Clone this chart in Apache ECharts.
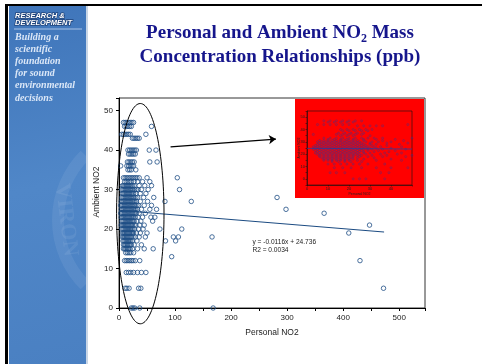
<!DOCTYPE html>
<html>
<head>
<meta charset="utf-8">
<title>Personal and Ambient NO2 Mass Concentration Relationships</title>
<script src="https://cdn.jsdelivr.net/npm/echarts@6/dist/echarts.min.js"></script>
<style>
  html, body { margin: 0; padding: 0; background: #fff; }
  #chart { width: 482px; height: 364px; }
</style>
</head>
<body>
<div id="chart"></div>
<script>
// Markers sit on whole-ppb rows, so the scatter is kept as one row per ambient level
// with the personal readings read off that row.
const ambientLevels = [47, 46, 44, 43, 40, 39, 37, 36, 35, 33, 32, 31, 30, 29, 28, 27, 26,
  25, 24, 23, 22, 21, 20, 19, 18, 17, 16, 15, 14, 13, 12, 9, 5, 0];
const personalByLevel = [
  [8, 11, 14, 17, 20, 23, 26],
  [10, 13, 16, 19, 22, 58],
  [5, 8, 11, 14, 17, 20, 48],
  [24, 27, 30, 33, 36],
  [16, 19, 22, 25, 28, 31, 54, 66],
  [17, 20, 23, 26, 29],
  [15, 18, 21, 24, 27, 55, 68],
  [3, 14, 17, 20, 23, 26],
  [16, 19, 22, 30],
  [8, 11, 14, 17, 20, 23, 26, 29, 32, 36, 50, 104],
  [10, 13, 16, 19, 22, 27, 33, 42, 55],
  [6, 8, 10, 12, 14, 16, 18, 20, 22, 24, 27, 36, 46, 58],
  [5, 7, 9, 11, 13, 15, 17, 19, 21, 23, 25, 28, 31, 34, 40, 52, 108],
  [6, 8, 10, 12, 14, 16, 18, 20, 22, 24, 26, 30, 38, 48],
  [5, 7, 9, 11, 13, 15, 17, 19, 21, 23, 25, 27, 30, 33, 44, 62, 282],
  [4, 6, 8, 10, 12, 14, 16, 18, 20, 22, 24, 26, 28, 31, 38, 51, 82, 129],
  [3, 5, 7, 9, 11, 13, 15, 17, 19, 21, 23, 25, 27, 29, 32, 35, 45, 58],
  [4, 6, 8, 10, 12, 14, 16, 18, 20, 22, 24, 26, 28, 30, 33, 40, 55, 67, 298],
  [3, 5, 7, 9, 11, 13, 15, 17, 19, 21, 23, 25, 27, 29, 31, 36, 47, 366],
  [4, 6, 8, 10, 12, 14, 16, 18, 20, 22, 24, 26, 29, 34, 42, 57, 64],
  [5, 7, 9, 11, 13, 15, 17, 19, 21, 23, 25, 27, 32, 39, 60],
  [4, 6, 8, 10, 12, 14, 16, 18, 20, 22, 24, 27, 30, 37, 45, 447],
  [5, 7, 9, 11, 13, 15, 17, 19, 21, 23, 25, 28, 35, 43, 73, 112],
  [6, 8, 10, 12, 14, 16, 18, 20, 22, 24, 26, 31, 38, 50, 410],
  [6, 8, 10, 12, 14, 16, 18, 20, 22, 25, 29, 36, 47, 97, 106, 166],
  [7, 9, 11, 13, 15, 17, 19, 21, 24, 32, 83, 101],
  [8, 10, 12, 14, 16, 18, 20, 22, 27, 40],
  [8, 10, 12, 14, 16, 18, 20, 24, 33, 45, 61],
  [12, 15, 18, 21, 26],
  [94],
  [10, 13, 16, 19, 22, 25, 29, 37, 430],
  [13, 17, 21, 26, 33, 40, 48],
  [11, 14, 18, 35, 39, 472],
  [22, 25, 28, 37, 168],
];

// Excel trendline as printed on the slide, drawn over the span of the personal readings.
const fitSlope = -0.0116;
const fitIntercept = 24.736;
const fitSpan = [3, 473];
const fitText = ['y = -0.0116x + 24.736', 'R2 = 0.0034'];

const xTicks = [0, 100, 200, 300, 400, 500];
const yTicks = [0, 10, 20, 30, 40, 50];
const insetXTicks = [0, 10, 20, 30, 40];
const insetYTicks = [0, 10, 20, 30, 40, 50];

const sidebarHead = ['RESEARCH &', 'DEVELOPMENT'];
const sidebarMotto = ['Building a', 'scientific', 'foundation', 'for sound', 'environmental', 'decisions'];

const SANS = '"Liberation Sans", Arial, sans-serif';
const SERIF = '"Liberation Serif", "Times New Roman", serif';
const POINT = '#1f4f86';

const points = ambientLevels.flatMap((y, i) => personalByLevel[i].map((x) => [x, y]));
const fitAt = (x) => [x, +(fitIntercept + fitSlope * x).toFixed(3)];
const insetPoints = points.filter(([x]) => x <= 50);

const tickFormatter = (ticks) => (v) => (ticks.includes(Math.round(v * 1000) / 1000) ? String(v) : '');

function valueAxis(extra) {
  return Object.assign({
    type: 'value',
    splitLine: { show: false },
    axisLine: { onZero: false, lineStyle: { color: '#000', width: 1 } },
    axisTick: { length: 3, lineStyle: { color: '#000' } },
    nameMoveOverlap: false,
  }, extra);
}

const option = {
  animation: false,
  backgroundColor: '#fff',
  grid: [
    { left: 119, top: 98, width: 306, height: 210, show: true, borderColor: '#333', borderWidth: 1, backgroundColor: 'transparent' },
    { left: 307, top: 111, width: 105, height: 74, show: true, borderColor: '#111', borderWidth: 0.6, backgroundColor: 'transparent', z: 4 },
  ],
  xAxis: [
    valueAxis({
      gridIndex: 0, min: 0, max: 546, interval: 50,
      axisLabel: { fontSize: 8, margin: 6, color: '#222', fontFamily: SANS, formatter: tickFormatter(xTicks) },
      name: 'Personal NO2', nameLocation: 'middle', nameGap: 20,
      nameTextStyle: { fontSize: 8.5, color: '#222', fontFamily: SANS },
    }),
    valueAxis({
      gridIndex: 1, min: 0, max: 50, interval: 10, z: 5,
      axisLine: { onZero: false, lineStyle: { color: '#111', width: 0.6 } },
      axisTick: { length: 1.5, lineStyle: { color: '#111', width: 0.5 } },
      axisLabel: { fontSize: 4, margin: 2, color: '#222', fontFamily: SANS, formatter: tickFormatter(insetXTicks) },
      name: 'Personal NO2', nameLocation: 'middle', nameGap: 7,
      nameTextStyle: { fontSize: 3.5, color: '#222', fontFamily: SANS },
    }),
  ],
  yAxis: [
    valueAxis({
      gridIndex: 0, min: 0, max: 53.2, interval: 10,
      axisLabel: { fontSize: 8, margin: 6, color: '#222', fontFamily: SANS, formatter: tickFormatter(yTicks) },
      name: 'Ambient NO2', nameLocation: 'middle', nameGap: 18,
      nameTextStyle: { fontSize: 8.5, color: '#222', fontFamily: SANS, padding: [0, 0, 0, 22] },
    }),
    valueAxis({
      gridIndex: 1, min: -5, max: 55, interval: 5, z: 5,
      axisLine: { onZero: false, lineStyle: { color: '#111', width: 0.6 } },
      axisTick: { length: 1.5, lineStyle: { color: '#111', width: 0.5 } },
      axisLabel: { fontSize: 4, margin: 2, color: '#222', fontFamily: SANS, formatter: tickFormatter(insetYTicks) },
      name: 'Ambient NO2', nameLocation: 'middle', nameGap: 6,
      nameTextStyle: { fontSize: 3.5, color: '#222', fontFamily: SANS },
    }),
  ],
  series: [
    {
      type: 'line',
      xAxisIndex: 0, yAxisIndex: 0, z: 2,
      data: fitSpan.map(fitAt),
      showSymbol: false, silent: true,
      lineStyle: { color: '#1b4b82', width: 1 },
      markLine: {
        silent: true,
        symbol: ['none', 'arrow'],
        symbolSize: 7,
        label: { show: false },
        lineStyle: { color: '#000', width: 1.3, type: 'solid' },
        data: [[{ coord: [92, 40.8] }, { coord: [280, 42.8] }]],
      },
    },
    {
      type: 'scatter',
      xAxisIndex: 0, yAxisIndex: 0, z: 3,
      symbol: 'circle', symbolSize: 4.5,
      itemStyle: { color: 'rgba(0,0,0,0)', borderColor: POINT, borderWidth: 1 },
      data: points,
    },
    {
      type: 'line',
      xAxisIndex: 1, yAxisIndex: 1, z: 6,
      data: [0, 50].map(fitAt),
      showSymbol: false, silent: true,
      lineStyle: { color: '#2540a0', width: 0.8 },
    },
    {
      type: 'scatter',
      xAxisIndex: 1, yAxisIndex: 1, z: 6,
      symbol: 'circle', symbolSize: 2,
      itemStyle: { color: 'rgba(0,0,0,0)', borderColor: '#2a3a9c', borderWidth: 0.5 },
      data: insetPoints,
    },
  ],
};

const chart = echarts.init(document.getElementById('chart'));
chart.setOption(option);

// Annotations that live in data space on the slide, placed once the scales exist.
const toPx = (xy) => chart.convertToPixel({ gridIndex: 0 }, xy);
const ringCenter = toPx([38, 23.9]);
const ringRx = toPx([38 + 42.3, 23.9])[0] - ringCenter[0];
const ringRy = ringCenter[1] - toPx([38, 23.9 + 27.9])[1];
const eqAt = toPx([238, 17.5]);

const text = (x, y, str, font, fill, extra) => ({
  type: 'text', x, y, z: 10,
  style: Object.assign({ text: str, font, fill, align: 'left', verticalAlign: 'middle', textAlign: 'left', textVerticalAlign: 'middle' }, extra),
});

const graphic = [
  // slide frame and sidebar
  { type: 'rect', z: 0, shape: { x: 9, y: 6, width: 77, height: 358 },
    style: { fill: { type: 'linear', x: 0, y: 0, x2: 1, y2: 1, colorStops: [
      { offset: 0, color: '#3f75ba' }, { offset: 0.5, color: '#5087c8' }, { offset: 1, color: '#4a80c2' }] } } },
  { type: 'arc', z: 1, shape: { cx: 150, cy: 220, r: 92, startAngle: Math.PI * 0.75, endAngle: Math.PI * 1.25 },
    style: { stroke: 'rgba(255,255,255,0.07)', lineWidth: 12, fill: 'none' } },
  Object.assign(text(66, 220, 'VIRON', 'bold 22px ' + SERIF, 'rgba(255,255,255,0.08)', { align: 'center', textAlign: 'center' }),
    { rotation: -Math.PI / 2 * 0.92 }),
  { type: 'rect', z: 2, shape: { x: 5, y: 4, width: 3, height: 360 }, style: { fill: '#000' } },
  { type: 'rect', z: 2, shape: { x: 5, y: 4, width: 477, height: 2 }, style: { fill: '#000' } },
  { type: 'rect', z: 1, shape: { x: 86, y: 6, width: 2, height: 358 }, style: { fill: '#c9d6e6' } },
  { type: 'line', z: 2, shape: { x1: 14, y1: 29, x2: 82, y2: 29 }, style: { stroke: '#a9c3e6', lineWidth: 1 } },
  ...sidebarHead.map((s, i) => text(15, 16 + i * 7, s, 'italic bold 7.5px ' + SANS, '#ffffff',
    { stroke: '#22457c', lineWidth: 1.6 })),
  ...sidebarMotto.map((s, i) => text(15, 37 + i * 12.2, s, 'italic bold 10px ' + SERIF, '#dbe7f7')),

  // title
  { type: 'text', x: 280, y: 20.75, z: 10,
    style: {
      text: '{a|Personal and Ambient NO}{s|2}{a| Mass}\n{a|Concentration Relationships (ppb)}',
      align: 'center', verticalAlign: 'top', textAlign: 'center', textVerticalAlign: 'top',
      rich: {
        a: { fontSize: 19, fontWeight: 'bold', fontFamily: SERIF, fill: '#16168c', lineHeight: 24.5 },
        s: { fontSize: 12, fontWeight: 'bold', fontFamily: SERIF, fill: '#16168c', lineHeight: 12, verticalAlign: 'bottom' },
      },
    } },

  // pasted close-up of the circled cluster
  { type: 'rect', z: 1, shape: { x: 295, y: 99, width: 129, height: 99 }, style: { fill: '#ff0000' } },

  // circled cluster and trendline equation
  { type: 'ellipse', z: 10, shape: { cx: ringCenter[0], cy: ringCenter[1], rx: ringRx, ry: ringRy },
    style: { fill: 'none', stroke: '#000', lineWidth: 1 } },
  ...fitText.map((s, i) => text(eqAt[0], eqAt[1] + 3.5 + i * 8, s, '6.6px ' + SANS, '#222')),
];

chart.setOption({ graphic });
</script>
</body>
</html>
